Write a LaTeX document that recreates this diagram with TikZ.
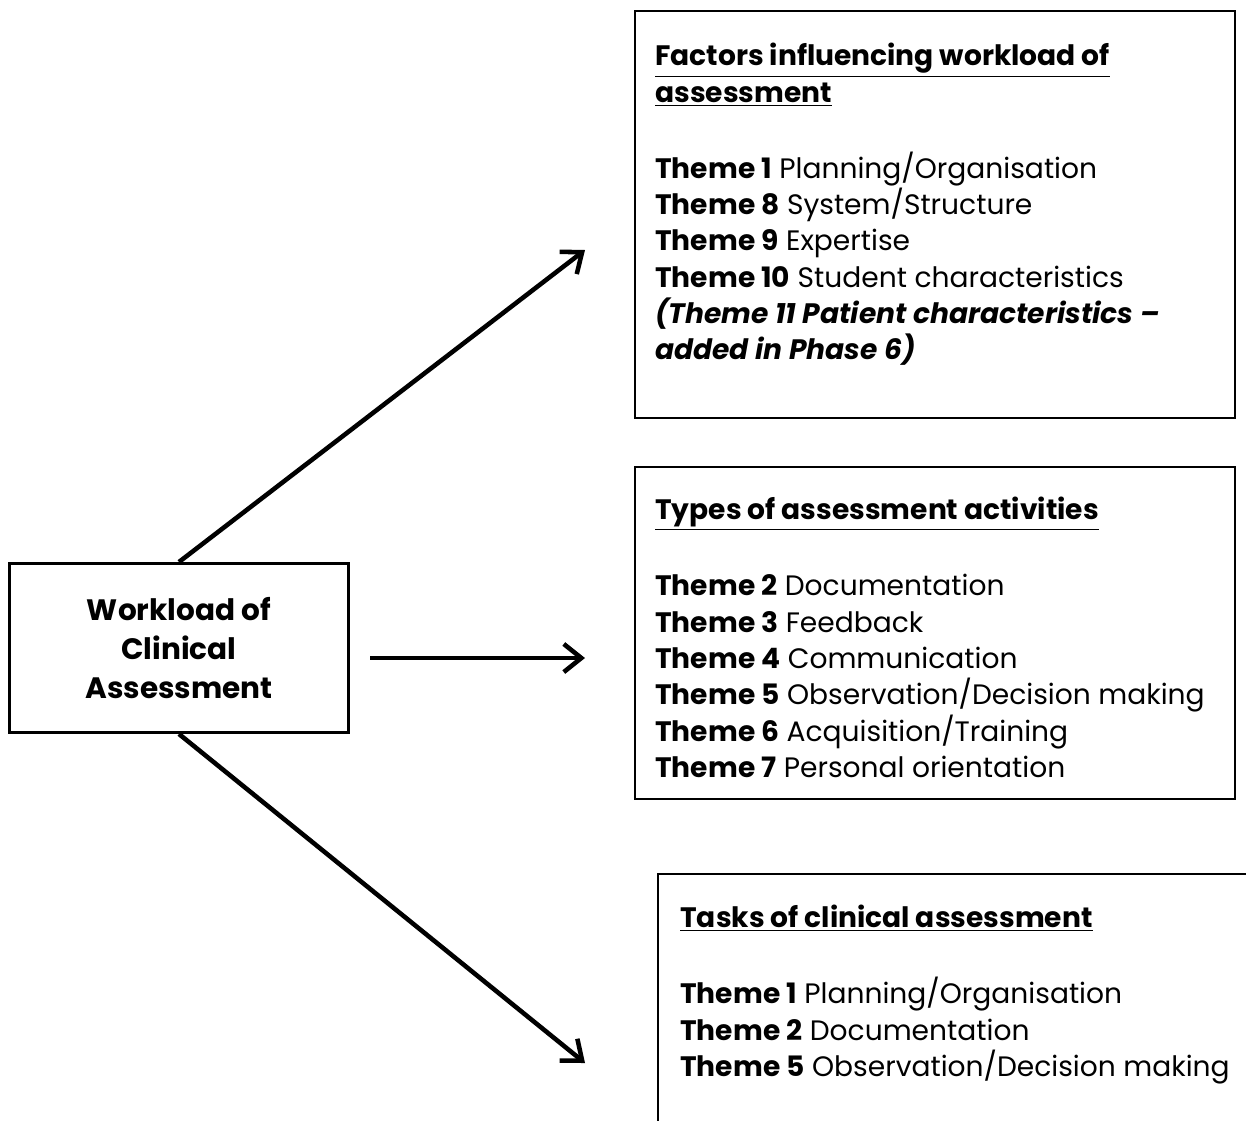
\documentclass[tikz,border=0pt]{standalone}
\usepackage{fontspec}
\setmainfont{Poppins}
\usetikzlibrary{arrows.meta,positioning}

\begin{document}
\begin{tikzpicture}[x=.02cm,y=-.02cm,>={Straight Barb[length=10pt,width=16pt]},
  box/.style={draw,line width=1.3pt,inner sep=0pt,anchor=north west},
  list/.style={align=left,inner sep=0pt,anchor=north west,font=\fontsize{16}{20.7}\selectfont},
  link/.style={->,line width=2.6pt}]
\useasboundingbox (0,0) rectangle (1246,1120);
% centre box
\node[box,line width=1.7pt,minimum width=6.78cm,minimum height=3.38cm,align=center,font=\fontsize{16.8}{22}\selectfont\bfseries] (work) at (8,562) {Workload of\\Clinical\\Assessment};
% theme boxes
\node[box,minimum width=12cm,minimum height=8.14cm] (factors) at (634,10) {};
\node[box,minimum width=12cm,minimum height=6.64cm] (types) at (634,466) {};
\node[box,minimum width=13cm,minimum height=6.2cm] (tasks) at (657,873) {};
\node[list] (factorsTxt) at (655,43) {\textbf{\underline{Factors influencing workload of}}\\
  \textbf{\underline{assessment}}\\[22.5pt]
  \textbf{Theme 1} Planning/Organisation\\
  \textbf{Theme 8} System/Structure\\
  \textbf{Theme 9} Expertise\\
  \textbf{Theme 10} Student characteristics\\
  \textbf{\itshape (Theme 11 Patient characteristics –}\\
  \textbf{\itshape added in Phase 6)}};
\node[list] (typesTxt) at (655,497) {\textbf{\underline{Types of assessment activities}}\\[22.5pt]
  \textbf{Theme 2} Documentation\\
  \textbf{Theme 3} Feedback\\
  \textbf{Theme 4} Communication\\
  \textbf{Theme 5} Observation/Decision making\\
  \textbf{Theme 6} Acquisition/Training\\
  \textbf{Theme 7} Personal orientation};
\node[list] (tasksTxt) at (680,905) {\textbf{\underline{Tasks of clinical assessment}}\\[22.5pt]
  \textbf{Theme 1} Planning/Organisation\\
  \textbf{Theme 2} Documentation\\
  \textbf{Theme 5} Observation/Decision making};
% arrows
\coordinate (upEnd) at (585,250);\coordinate (lowEnd) at (585,1063);
\coordinate (midA) at (370,658);\coordinate (midB) at (585,658);
\draw[link] (work.north)--(upEnd);
\draw[link] (midA)--(midB);
\draw[link] (work.south)--(lowEnd);
\end{tikzpicture}
\end{document}
